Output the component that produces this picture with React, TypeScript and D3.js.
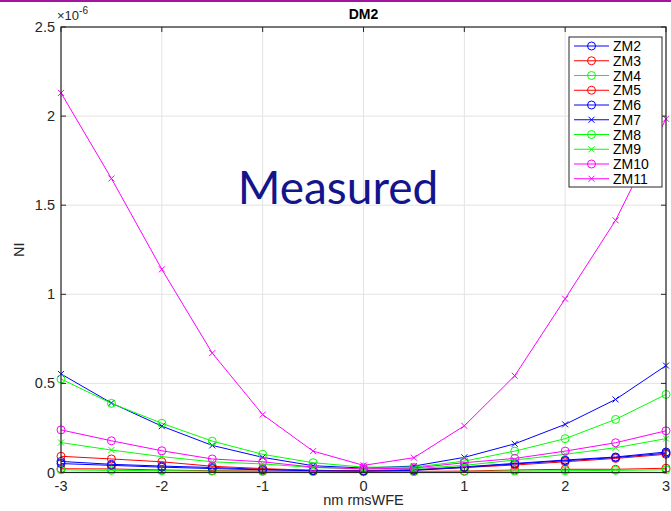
import React from "react";
import * as d3 from "d3";

// Defocus sweep, in nm rms wavefront error
const xValues = [-3, -2.5, -2, -1.5, -1, -0.5, 0, 0.5, 1, 1.5, 2, 2.5, 3];

// Normalized intensity per Zernike mode (units of 1e-6)
const zm2 = [0.062, 0.046, 0.036, 0.028, 0.018, 0.012, 0.01, 0.015, 0.032, 0.051, 0.07, 0.087, 0.115];
const zm3 = [0.021, 0.02, 0.014, 0.01, 0.008, 0.006, 0.005, 0.006, 0.008, 0.014, 0.018, 0.018, 0.024];
const zm4 = [0.015, 0.012, 0.01, 0.008, 0.006, 0.005, 0.004, 0.005, 0.006, 0.008, 0.01, 0.012, 0.015];
const zm5 = [0.091, 0.076, 0.06, 0.035, 0.022, 0.012, 0.01, 0.014, 0.028, 0.042, 0.06, 0.079, 0.102];
const zm6 = [0.05, 0.04, 0.03, 0.022, 0.015, 0.01, 0.008, 0.012, 0.028, 0.048, 0.066, 0.084, 0.108];
const zm7 = [0.553, 0.39, 0.26, 0.152, 0.085, 0.038, 0.025, 0.036, 0.085, 0.161, 0.27, 0.41, 0.6];
const zm8 = [0.525, 0.388, 0.276, 0.176, 0.102, 0.055, 0.03, 0.03, 0.064, 0.12, 0.19, 0.298, 0.438];
const zm9 = [0.168, 0.126, 0.089, 0.06, 0.048, 0.028, 0.02, 0.022, 0.04, 0.07, 0.102, 0.139, 0.19];
const zm10 = [0.239, 0.178, 0.122, 0.076, 0.06, 0.03, 0.02, 0.025, 0.055, 0.079, 0.12, 0.167, 0.234];
const zm11 = [2.13, 1.65, 1.14, 0.67, 0.325, 0.12, 0.04, 0.083, 0.262, 0.543, 0.975, 1.415, 1.985];

const seriesNames = ["ZM2", "ZM3", "ZM4", "ZM5", "ZM6", "ZM7", "ZM8", "ZM9", "ZM10", "ZM11"];
const seriesValues = [zm2, zm3, zm4, zm5, zm6, zm7, zm8, zm9, zm10, zm11];
const seriesColors = ["#0000ff", "#ff0000", "#00ff00", "#ff0000", "#0000ff", "#0000ff", "#00ff00", "#00ff00", "#ff00ff", "#ff00ff"];
const seriesMarkers = ["o", "o", "o", "o", "o", "x", "o", "x", "o", "x"];

const xTicks = [-3, -2, -1, 0, 1, 2, 3];
const yTicks = [0, 0.5, 1, 1.5, 2, 2.5];

const W = 671;
const H = 511;
const plot = { left: 61, right: 666, top: 27, bottom: 472.5 };
const axisColor = "#262626";
const font = "'Liberation Sans', Arial, Helvetica, sans-serif";

function Marker({ kind, cx, cy, color }: { kind: string; cx: number; cy: number; color: string }) {
  if (kind === "o") {
    return <circle cx={cx} cy={cy} r={4} fill="none" stroke={color} strokeWidth={1} />;
  }
  const s = 3;
  return (
    <path
      d={`M${cx - s},${cy - s}L${cx + s},${cy + s}M${cx - s},${cy + s}L${cx + s},${cy - s}`}
      stroke={color}
      strokeWidth={1}
      fill="none"
    />
  );
}

export default function App() {
  const x = d3.scaleLinear().domain([-3, 3]).range([plot.left, plot.right]);
  const y = d3.scaleLinear().domain([0, 2.5]).range([plot.bottom, plot.top]);
  const line = d3
    .line<number>()
    .x((_, i) => x(xValues[i]))
    .y((d) => y(d));

  const legend = { left: 569, top: 37, width: 93, height: 150, rowH: 14.75 };
  const tickLen = 5;

  return (
    <svg
      width={W}
      height={H}
      style={{ position: "absolute", left: 0, top: 0, background: "#ffffff" }}
      fontFamily={font}
    >
      <rect x={0} y={0} width={W} height={H} fill="#ffffff" />
      <rect x={0} y={0} width={W} height={2} fill="#a3169e" />

      {/* grid */}
      {xTicks.map((t) => (
        <line key={`gx${t}`} x1={x(t)} x2={x(t)} y1={plot.top} y2={plot.bottom} stroke="#e3e3e3" strokeWidth={1} />
      ))}
      {yTicks.map((t) => (
        <line key={`gy${t}`} x1={plot.left} x2={plot.right} y1={y(t)} y2={y(t)} stroke="#e3e3e3" strokeWidth={1} />
      ))}

      {/* series */}
      {seriesValues.map((vals, si) => (
        <g key={seriesNames[si]}>
          <path d={line(vals) || ""} fill="none" stroke={seriesColors[si]} strokeWidth={1} />
          {vals.map((v, i) => (
            <Marker key={i} kind={seriesMarkers[si]} cx={x(xValues[i])} cy={y(v)} color={seriesColors[si]} />
          ))}
        </g>
      ))}

      {/* axes box and ticks */}
      <rect
        x={plot.left}
        y={plot.top}
        width={plot.right - plot.left}
        height={plot.bottom - plot.top}
        fill="none"
        stroke={axisColor}
        strokeWidth={1.2}
      />
      {xTicks.map((t) => (
        <g key={`tx${t}`}>
          <line x1={x(t)} x2={x(t)} y1={plot.bottom} y2={plot.bottom - tickLen} stroke={axisColor} />
          <line x1={x(t)} x2={x(t)} y1={plot.top} y2={plot.top + tickLen} stroke={axisColor} />
          <text x={x(t)} y={plot.bottom + 18} textAnchor="middle" fontSize={14.5} fill="#262626">
            {t}
          </text>
        </g>
      ))}
      {yTicks.map((t) => (
        <g key={`ty${t}`}>
          <line x1={plot.left} x2={plot.left + tickLen} y1={y(t)} y2={y(t)} stroke={axisColor} />
          <line x1={plot.right} x2={plot.right - tickLen} y1={y(t)} y2={y(t)} stroke={axisColor} />
          <text x={plot.left - 6} y={y(t) + 5} textAnchor="end" fontSize={14.5} fill="#262626">
            {t}
          </text>
        </g>
      ))}

      {/* exponent */}
      <text x={57} y={20} fontSize={13} fill="#262626">
        ×10
        <tspan dy={-6} fontSize={10}>
          -6
        </tspan>
      </text>

      {/* labels */}
      <text x={(plot.left + plot.right) / 2} y={19} textAnchor="middle" fontSize={14} fontWeight="bold" fill="#000">
        DM2
      </text>
      <text x={(plot.left + plot.right) / 2} y={505} textAnchor="middle" fontSize={14.5} fill="#262626">
        nm rmsWFE
      </text>
      <text
        transform={`translate(24, ${(plot.top + plot.bottom) / 2}) rotate(-90)`}
        textAnchor="middle"
        fontSize={14.5}
        fill="#262626"
      >
        NI
      </text>

      {/* legend */}
      <rect
        x={legend.left}
        y={legend.top}
        width={legend.width}
        height={legend.height}
        fill="#ffffff"
        stroke={axisColor}
        strokeWidth={1}
      />
      {seriesNames.map((name, i) => {
        const cy = legend.top + 9 + i * legend.rowH;
        return (
          <g key={`lg${name}`}>
            <line x1={legend.left + 5} x2={legend.left + 40} y1={cy} y2={cy} stroke={seriesColors[i]} strokeWidth={1} />
            <Marker kind={seriesMarkers[i]} cx={legend.left + 22.5} cy={cy} color={seriesColors[i]} />
            <text x={legend.left + 44} y={cy + 5} fontSize={14} fill="#000">
              {name}
            </text>
          </g>
        );
      })}

      {/* annotation */}
      <text x={338} y={204} textAnchor="middle" fontSize={46} fontFamily="Lato, 'Open Sans', sans-serif" fill="#14148c">
        Measured
      </text>
    </svg>
  );
}
